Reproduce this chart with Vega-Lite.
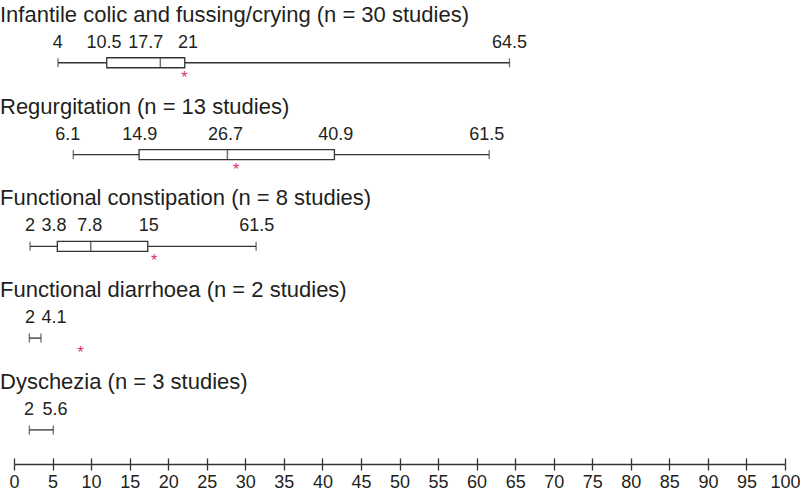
{
  "$schema": "https://vega.github.io/schema/vega-lite/v6.json",
  "width": 771,
  "height": 464,
  "padding": {"left": 14, "top": 0, "right": 15, "bottom": 28},
  "autosize": {"type": "none"},
  "config": {
    "view": {"stroke": null},
    "font": "Liberation Sans"
  },
  "resolve": {"axis": {"x": "independent"}},
  "datasets": {
    "cats": [
      {"row": 0, "title": "Infantile colic and fussing/crying (n = 30 studies)", "lo": 5.71, "q1": 12.03, "med": 18.98, "q3": 22.15, "hi": 64.27, "star": 22.1},
      {"row": 1, "title": "Regurgitation (n = 13 studies)", "lo": 7.69, "q1": 16.22, "med": 27.68, "q3": 41.56, "hi": 61.63, "star": 28.8},
      {"row": 2, "title": "Functional constipation (n = 8 studies)", "lo": 2.08, "q1": 5.62, "med": 9.95, "q3": 17.35, "hi": 31.4, "star": 18.17},
      {"row": 3, "title": "Functional diarrhoea (n = 2 studies)", "lo": 1.99, "q1": null, "med": null, "q3": null, "hi": 3.5, "star": 8.65},
      {"row": 4, "title": "Dyschezia (n = 3 studies)", "lo": 1.99, "q1": null, "med": null, "q3": null, "hi": 5.1, "star": null}
    ],
    "labels": [
      {"row": 0, "at": 5.67, "txt": "4"},
      {"row": 0, "at": 11.68, "txt": "10.5"},
      {"row": 0, "at": 17.09, "txt": "17.7"},
      {"row": 0, "at": 22.58, "txt": "21"},
      {"row": 0, "at": 64.27, "txt": "64.5"},
      {"row": 1, "at": 6.97, "txt": "6.1"},
      {"row": 1, "at": 16.31, "txt": "14.9"},
      {"row": 1, "at": 27.42, "txt": "26.7"},
      {"row": 1, "at": 41.74, "txt": "40.9"},
      {"row": 1, "at": 61.33, "txt": "61.5"},
      {"row": 2, "at": 2.08, "txt": "2"},
      {"row": 2, "at": 5.19, "txt": "3.8"},
      {"row": 2, "at": 9.82, "txt": "7.8"},
      {"row": 2, "at": 17.48, "txt": "15"},
      {"row": 2, "at": 31.49, "txt": "61.5"},
      {"row": 3, "at": 2.08, "txt": "2"},
      {"row": 3, "at": 5.19, "txt": "4.1"},
      {"row": 4, "at": 1.95, "txt": "2"},
      {"row": 4, "at": 5.32, "txt": "5.6"}
    ]
  },
  "encoding": {
    "y": {"field": "row", "type": "quantitative", "scale": {"domain": [-0.629, 4.317], "reverse": true, "nice": false, "zero": false}, "axis": null}
  },
  "layer": [
    {
      "data": {"name": "cats"},
      "mark": {"type": "rule", "color": "#333333", "strokeWidth": 1.3},
      "encoding": {
        "x": {"field": "lo", "type": "quantitative",
          "scale": {"domain": [0, 100], "nice": false, "zero": true},
          "axis": {"values": [0,5,10,15,20,25,30,35,40,45,50,55,60,65,70,75,80,85,90,95,100],
            "orient": "bottom", "title": null, "grid": false, "tickSize": 6, "labelFontSize": 18, "labelPadding": 3,
            "labelColor": "#231f20", "domainColor": "#333333", "tickColor": "#333333",
            "domainWidth": 1.3, "tickWidth": 1.3, "labelFlush": false, "labelOverlap": false}},
        "x2": {"field": "hi"}
      }
    },
    {
      "data": {"name": "cats"},
      "mark": {"type": "tick", "orient": "vertical", "size": 9, "thickness": 1.3, "color": "#333333"},
      "encoding": {
        "x": {"field": "lo", "type": "quantitative", "scale": {"domain": [0, 100], "nice": false},
          "axis": {"values": [0,5,10,15,20,25,30,35,40,45,50,55,60,65,70,75,80,85,90,95,100],
            "orient": "top", "offset": -464, "title": null, "grid": false, "tickSize": 6, "labels": false, "domain": false,
            "tickColor": "#333333", "tickWidth": 1.3}}
      }
    },
    {
      "data": {"name": "cats"},
      "mark": {"type": "tick", "orient": "vertical", "size": 9, "thickness": 1.3, "color": "#333333"},
      "encoding": {
        "x": {"field": "hi", "type": "quantitative", "scale": {"domain": [0, 100], "nice": false}, "axis": null}
      }
    },
    {
      "data": {"name": "cats"},
      "mark": {"type": "bar", "orient": "horizontal", "size": 10, "fill": "white", "stroke": "#333333", "strokeWidth": 1.3},
      "encoding": {
        "x": {"field": "q1", "type": "quantitative", "scale": {"domain": [0, 100], "nice": false}, "axis": null},
        "x2": {"field": "q3"}
      }
    },
    {
      "data": {"name": "cats"},
      "mark": {"type": "tick", "orient": "vertical", "size": 10, "thickness": 1.5, "color": "#333333"},
      "encoding": {
        "x": {"field": "med", "type": "quantitative", "scale": {"domain": [0, 100], "nice": false}, "axis": null}
      }
    },
    {
      "data": {"name": "cats"},
      "mark": {"type": "text", "text": "*", "color": "#e0306a", "fontSize": 16, "baseline": "alphabetic", "align": "center", "dy": 20},
      "encoding": {
        "x": {"field": "star", "type": "quantitative", "scale": {"domain": [0, 100], "nice": false}, "axis": null}
      }
    },
    {
      "data": {"name": "cats"},
      "mark": {"type": "text", "align": "left", "baseline": "alphabetic", "dx": -14, "dy": -41, "fontSize": 22, "color": "#231f20"},
      "encoding": {
        "x": {"datum": 0, "type": "quantitative", "scale": {"domain": [0, 100], "nice": false}, "axis": null},
        "text": {"field": "title"}
      }
    },
    {
      "data": {"name": "labels"},
      "mark": {"type": "text", "align": "center", "baseline": "alphabetic", "dy": -15, "fontSize": 18, "color": "#231f20"},
      "encoding": {
        "x": {"field": "at", "type": "quantitative", "scale": {"domain": [0, 100], "nice": false}, "axis": null},
        "text": {"field": "txt"}
      }
    }
  ]
}
